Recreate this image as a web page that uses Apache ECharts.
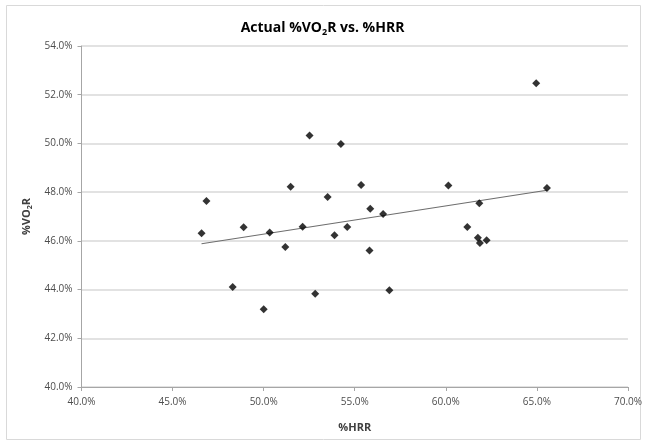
<!DOCTYPE html>
<html><head><meta charset="utf-8">
<script src="https://cdn.jsdelivr.net/npm/echarts@6/dist/echarts.min.js"></script>
<style>html,body{margin:0;padding:0;background:#fff}#c{width:645px;height:444px}</style>
</head><body><div id="c"></div>
<script>
const hrr = [46.59,46.86,48.30,48.90,50.00,50.33,51.19,51.48,52.14,52.52,52.83,53.51,53.89,54.24,54.59,55.35,55.81,55.85,56.56,56.90,60.14,61.18,61.76,61.84,61.87,62.24,64.96,65.55];
const vo2r = [46.31,47.64,44.11,46.56,43.19,46.34,45.75,48.22,46.58,50.33,43.83,47.80,46.23,49.98,46.57,48.29,45.60,47.32,47.10,43.97,48.27,46.57,46.13,47.54,45.91,46.02,52.47,48.17];
const xTicks = [40,45,50,55,60,65,70];
const yTicks = [40,42,44,46,48,50,52,54];

const pts = hrr.map((x,i)=>[x,vo2r[i]]);
// least squares trendline
const n = hrr.length;
const mx = hrr.reduce((a,b)=>a+b,0)/n, my = vo2r.reduce((a,b)=>a+b,0)/n;
let sxy=0,sxx=0;
for(let i=0;i<n;i++){sxy+=(hrr[i]-mx)*(vo2r[i]-my);sxx+=(hrr[i]-mx)**2;}
const slope=sxy/sxx, icpt=my-slope*mx;
const xmin=Math.min(...hrr), xmax=Math.max(...hrr);
const trend=[[xmin,icpt+slope*xmin],[xmax,icpt+slope*xmax]];

const chart = echarts.init(document.getElementById('c'));
const fam = '"Open Sans", "Liberation Sans", sans-serif';
chart.setOption({
  animation:false,
  graphic:[{type:'rect',shape:{x:6.5,y:5.5,width:634,height:434},style:{fill:'none',stroke:'#d9d9d9',lineWidth:1}}],
  title:{
    text:'{a|Actual %VO}{s|2}{a|R vs. %HRR}',
    left:'center', top:14,
    textStyle:{rich:{
      a:{fontFamily:fam,fontSize:14,fontWeight:'bold',color:'#000',lineHeight:18},
      s:{fontFamily:fam,fontSize:9,fontWeight:'bold',color:'#000',verticalAlign:'bottom',lineHeight:18,padding:[8,0,0,0]}
    }}
  },
  grid:{left:81.5,right:16,top:46,bottom:57},
  xAxis:{
    type:'value',min:40,max:70,interval:5,
    name:'%HRR',nameLocation:'middle',nameGap:35,
    nameTextStyle:{fontFamily:fam,fontSize:11,fontWeight:'bold',color:'#404040'},
    axisLine:{lineStyle:{color:'#a6a6a6'}},
    axisTick:{show:true,length:4,lineStyle:{color:'#a6a6a6'}},
    splitLine:{show:false},
    axisLabel:{fontFamily:fam,fontSize:10,color:'#4d4d4d',margin:10,formatter:v=>v.toFixed(1)+'%'}
  },
  yAxis:{
    type:'value',min:40,max:54,interval:2,
    name:'{a|%VO}{s|2}{a|R}',nameLocation:'middle',nameGap:41,
    nameTextStyle:{rich:{
      a:{fontFamily:fam,fontSize:11,fontWeight:'bold',color:'#404040',lineHeight:14},
      s:{fontFamily:fam,fontSize:7,fontWeight:'bold',color:'#404040',lineHeight:14,padding:[6,0,0,0]}
    }},
    axisLine:{show:true,lineStyle:{color:'#a6a6a6'}},
    axisTick:{show:true,length:4,lineStyle:{color:'#a6a6a6'}},
    splitLine:{lineStyle:{color:'#d9d9d9',width:1.5}},
    axisLabel:{fontFamily:fam,fontSize:10,color:'#4d4d4d',margin:9,formatter:v=>v.toFixed(1)+'%'}
  },
  series:[
    {type:'line',data:trend,symbol:'none',lineStyle:{color:'#6e6e6e',width:1.2},z:2},
    {type:'scatter',data:pts,symbol:'diamond',symbolSize:8,itemStyle:{color:'#000'},z:3}
  ]
});
</script></body></html>
